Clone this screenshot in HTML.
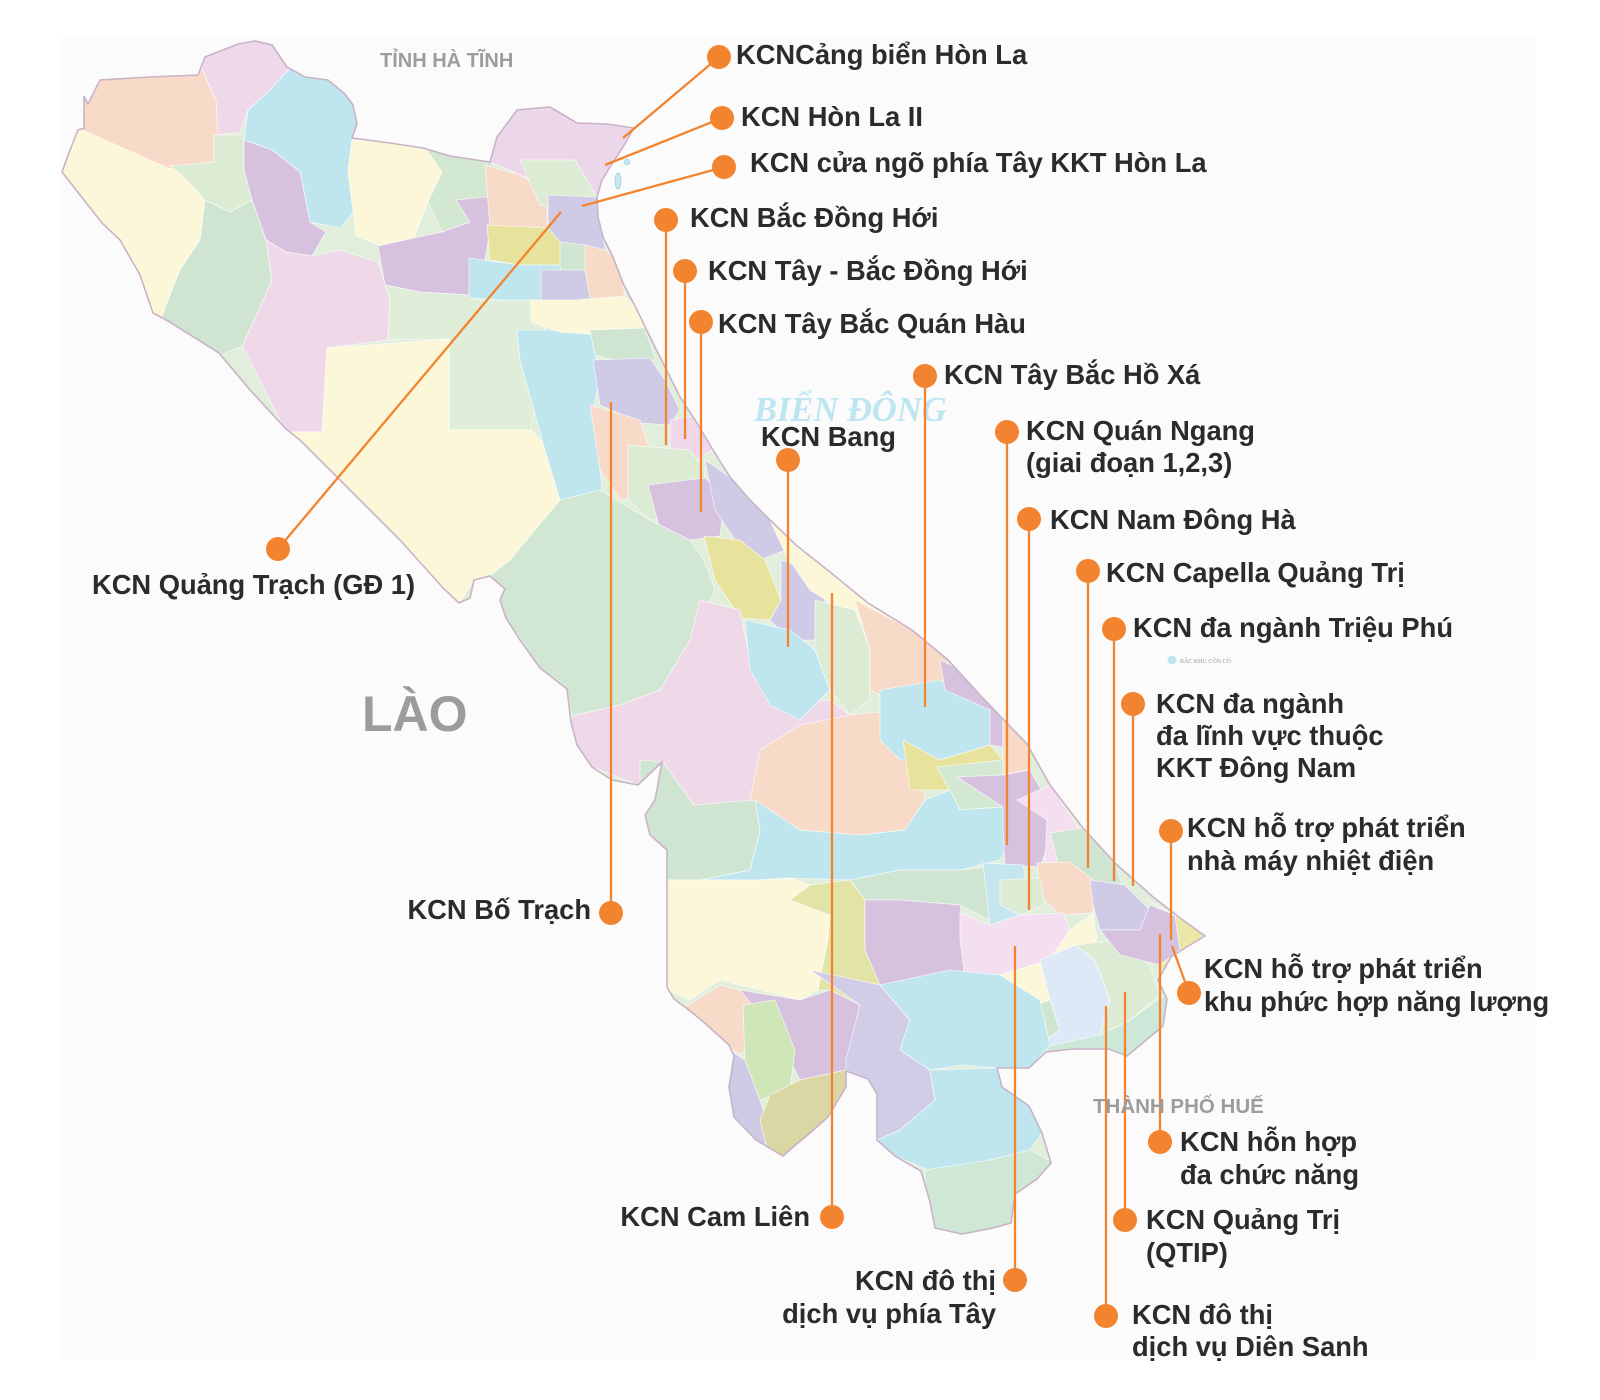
<!DOCTYPE html>
<html>
<head>
<meta charset="utf-8">
<style>
html,body{margin:0;padding:0;background:#fff;}
svg{display:block;}
.lbl{font-family:"Liberation Sans",Arial,sans-serif;font-weight:bold;font-size:27.3px;fill:#2b2b2b;}
.gr{font-family:"Liberation Sans",Arial,sans-serif;font-weight:bold;fill:#9c9c9c;}
.ln{stroke:#f3842f;stroke-width:2.3;fill:none;}
.dt{fill:#f3842f;}
.rg polygon{stroke:#ffffff;stroke-width:0.8;stroke-opacity:0.7;}
</style>
</head>
<body>
<svg width="1600" height="1400" viewBox="0 0 1600 1400" xmlns="http://www.w3.org/2000/svg">
<rect x="0" y="0" width="1600" height="1400" fill="#ffffff"/>
<rect x="60" y="38" width="1475" height="1322" fill="#fbfbfb"/>
<defs>
<clipPath id="land">
<path id="outl" d="M62,172 L70,150 L78,130 L84,128 L84,96 L88,104 L100,80 L150,77 L198,75 L205,57 L238,44 L255,41 L272,45 L287,67 L305,77 L328,80 L345,94 L353,105 L357,124 L352,138 L390,143 L423,148 L450,156 L490,162 L497,137 L517,110 L550,107 L577,123 L607,124 L634,128 L623,147 L610,167 L602,180 L597,197 L598,217 L603,237 L613,257 L623,283 L637,310 L650,337 L663,363 L680,397 L697,423 L713,450 L730,477 L750,500 L770,520 L796,545 L830,572 L868,603 L912,630 L948,660 L980,695 L1027,744 L1050,785 L1083,828 L1116,864 L1152,896 L1180,918 L1205,936 L1185,948 L1171,957 L1158,980 L1167,999 L1163,1026 L1145,1041 L1127,1056 L1109,1049 L1073,1049 L1046,1052 L1029,1068 L997,1068 L1002,1087 L1029,1106 L1042,1133 L1051,1163 L1037,1179 L1015,1194 L1011,1223 L993,1228 L962,1234 L935,1228 L930,1202 L921,1171 L895,1156 L877,1140 L877,1094 L868,1079 L846,1071 L846,1087 L828,1117 L810,1133 L792,1148 L783,1156 L756,1140 L734,1117 L729,1087 L734,1056 L729,1045 L707,1025 L689,1010 L674,999 L667,987 L667,850 L650,835 L645,815 L655,800 L662,762 L638,785 L612,780 L592,767 L577,745 L571,722 L567,689 L540,668 L520,640 L506,618 L500,600 L505,589 L490,576 L474,580 L470,598 L459,603 L444,589 L400,540 L350,490 L300,440 L286,429 L250,390 L219,353 L168,321 L153,313 L140,275 L120,240 L102,223 L80,195 Z"/>
</clipPath>
</defs>

<g clip-path="url(#land)">
<rect x="40" y="30" width="1200" height="1220" fill="#e0eedb"/>
<g class="rg">
<polygon fill="#fdf7d9" points="40,175 78,118 168,165 190,178 205,200 200,240 180,270 168,300 162,330 100,260 40,200"/>
<polygon fill="#f8dac9" points="80,60 198,60 216,100 222,135 214,162 190,172 168,168 78,128"/>
<polygon fill="#efd8ea" points="198,60 205,40 238,30 272,30 292,66 268,92 248,110 240,132 218,135 216,100"/>
<polygon fill="#bfe6ee" points="248,110 268,92 292,66 305,70 330,70 365,100 365,124 352,140 348,172 356,210 340,228 310,222 300,172 272,150 244,140"/>
<polygon fill="#dcebd3" points="214,135 244,135 244,170 252,200 230,212 205,200 185,178 170,166 214,162"/>
<polygon fill="#d6c2de" points="244,140 272,150 300,172 310,222 326,232 312,256 286,252 266,240 252,200 244,170"/>
<polygon fill="#cfe5d2" points="205,200 230,212 252,200 266,240 272,280 258,312 242,346 219,356 190,336 160,322 168,300 180,270 200,240"/>
<polygon fill="#efd9e9" points="266,240 286,252 312,256 340,250 378,262 390,300 388,340 327,348 322,432 286,432 242,346 258,312 272,280"/>
<polygon fill="#fdf7d9" points="352,140 390,142 424,146 442,172 428,202 414,238 382,246 356,236 348,172"/>
<polygon fill="#d3e8d0" points="424,146 452,150 492,155 496,196 470,222 442,232 428,202 442,172"/>
<polygon fill="#d6c2de" points="378,246 414,238 442,232 470,222 456,200 495,196 490,230 485,260 470,295 420,292 385,285"/>
<polygon fill="#dfedd9" points="385,285 420,292 470,295 480,300 530,300 545,330 531,430 449,430 449,339 388,340 390,300"/>
<polygon fill="#fdf7d9" points="286,432 322,432 327,348 449,339 449,430 531,430 560,460 566,520 540,545 510,580 490,576 474,580 459,603 444,589 350,490 300,440"/>
<polygon fill="#bfe6ee" points="517,330 590,330 600,377 593,410 600,470 605,520 585,530 560,500 545,450 531,400 520,360"/>
<polygon fill="#ecd6ea" points="490,162 497,137 517,108 550,105 577,120 607,122 640,125 623,147 610,167 602,180 597,197 560,190 520,175"/>
<polygon fill="#f8dac9" points="485,165 520,175 546,190 548,228 490,228"/>
<polygon fill="#dcebd3" points="520,160 575,160 597,197 565,210 540,205"/>
<polygon fill="#cfcbe6" points="548,195 597,197 598,217 603,237 606,252 570,252 548,235"/>
<polygon fill="#e7e39c" points="487,225 548,228 567,250 565,265 520,265 490,260"/>
<polygon fill="#cfe5d2" points="560,242 585,245 588,272 560,272"/>
<polygon fill="#bfe6ee" points="469,258 520,265 560,265 565,290 545,300 500,300 469,298"/>
<polygon fill="#f8dac9" points="585,245 606,250 613,257 623,283 625,298 590,300 585,275"/>
<polygon fill="#cfcbe6" points="541,270 585,270 590,298 575,312 541,312"/>
<polygon fill="#fdf7d9" points="531,300 575,300 625,296 637,310 645,330 600,335 560,332 531,322"/>
<polygon fill="#cfe5d2" points="590,330 645,328 655,360 620,362 595,355"/>
<polygon fill="#cfcbe6" points="593,360 650,358 665,380 680,410 670,425 640,423 600,405"/>
<polygon fill="#f8dac9" points="590,405 640,420 650,450 645,495 620,500 600,470"/>
<polygon fill="#efd8ea" points="670,420 700,415 712,450 690,465 670,452"/>
<polygon fill="#dcebd3" points="628,445 690,450 705,470 700,515 650,520 628,500"/>
<polygon fill="#d6c2de" points="648,485 705,478 725,495 720,536 690,540 660,530"/>
<polygon fill="#cfcbe6" points="705,460 730,477 750,500 770,520 786,550 760,560 735,540 715,510"/>
<polygon fill="#e7e39c" points="704,536 740,540 765,560 781,600 770,620 740,618 715,580"/>
<polygon fill="#d2e7d3" points="510,560 560,500 600,490 650,520 690,540 704,560 715,590 700,620 690,660 660,690 620,705 572,716 567,689 540,668 506,618 500,600 505,589 490,576"/>
<polygon fill="#cfcbe6" points="781,560 810,570 825,600 815,640 790,640 770,620 781,600"/>
<polygon fill="#fdf7d9" points="770,520 810,545 860,590 900,620 890,640 850,615 810,590 786,555"/>
<polygon fill="#efd9e9" points="572,716 620,705 660,690 690,640 700,600 740,610 750,660 790,700 830,700 850,715 870,730 880,760 860,790 800,800 760,810 694,805 663,762 638,785 592,767 577,745 571,722"/>
<polygon fill="#bfe6ee" points="745,620 790,630 815,650 830,690 800,720 770,705 750,670"/>
<polygon fill="#dcebd3" points="815,600 855,610 870,650 870,700 850,715 830,690 815,650"/>
<polygon fill="#f8dac9" points="855,600 912,630 948,660 945,700 900,705 870,690 870,650"/>
<polygon fill="#f8dac9" points="750,800 760,750 800,725 850,715 900,710 920,760 925,800 905,830 860,835 800,830 756,825"/>
<polygon fill="#bfe6ee" points="880,690 940,680 990,710 990,745 940,760 900,760 880,740"/>
<polygon fill="#d6c2de" points="940,660 983,680 1003,720 1003,747 990,745 990,710 945,690"/>
<polygon fill="#f8dac9" points="983,690 1027,744 1030,770 1003,775 1003,720"/>
<polygon fill="#e7e39c" points="903,740 940,760 990,745 1003,760 987,785 950,790 910,790"/>
<polygon fill="#d3e8d0" points="937,767 1003,760 1003,807 960,810"/>
<polygon fill="#bfe6ee" points="755,800 800,830 860,835 905,830 925,800 950,790 960,810 1003,807 1010,840 1000,860 960,870 900,870 850,880 790,878 760,880 720,880 700,880 750,870 760,830"/>
<polygon fill="#cfe5d2" points="640,760 663,762 694,805 755,800 760,830 750,870 700,880 667,880 640,840"/>
<polygon fill="#d6c2de" points="957,777 1003,775 1030,770 1047,800 1050,840 1040,867 1005,865 1003,830 1003,807"/>
<polygon fill="#f3dff0" points="1017,800 1050,785 1080,830 1080,867 1045,862 1047,820"/>
<polygon fill="#cfe5d2" points="1050,833 1083,828 1116,864 1123,890 1090,892 1060,870"/>
<polygon fill="#fdf7d9" points="667,880 700,880 760,880 790,878 810,885 830,900 828,940 818,990 800,1000 760,990 720,980 690,1000 667,990"/>
<polygon fill="#e2e3a6" points="790,900 810,885 850,880 865,900 865,950 880,985 910,1018 895,1035 860,1005 830,990 818,990 828,940 830,915"/>
<polygon fill="#cfe5d2" points="850,880 900,870 960,870 1005,865 1023,880 1023,913 990,920 960,905 900,900 865,900"/>
<polygon fill="#d6c2de" points="865,900 900,900 960,905 965,940 963,985 910,990 880,985 865,950"/>
<polygon fill="#c5e6ef" points="983,863 1023,865 1030,900 1017,930 990,925"/>
<polygon fill="#f8dac9" points="1037,863 1070,862 1093,880 1093,913 1060,915 1040,895"/>
<polygon fill="#dcebd3" points="1000,880 1040,878 1045,905 1020,915 1000,905"/>
<polygon fill="#f3dff0" points="960,913 990,925 1020,915 1063,913 1070,930 1050,960 1000,975 965,978 960,940"/>
<polygon fill="#fdf7d9" points="1000,975 1050,960 1070,930 1093,913 1097,940 1075,960 1050,1000 1020,1010 995,1000"/>
<polygon fill="#cfe5d2" points="995,1000 1020,1010 1050,1000 1060,1030 1040,1045 1005,1040"/>
<polygon fill="#dde9f6" points="1040,960 1075,945 1095,960 1110,1000 1100,1040 1070,1055 1040,1045 1060,1030 1050,1000"/>
<polygon fill="#dcebd3" points="1075,945 1120,940 1150,965 1160,995 1130,1020 1100,1035 1110,1000 1095,960"/>
<polygon fill="#cde8d8" points="1040,1048 1100,1035 1130,1020 1165,995 1175,1030 1150,1065 1100,1060 1040,1065"/>
<polygon fill="#cfcbe6" points="1090,880 1125,885 1150,910 1140,930 1100,930 1093,905"/>
<polygon fill="#d6c2de" points="1100,930 1140,930 1150,905 1175,915 1180,950 1160,965 1120,955"/>
<polygon fill="#ebe7a8" points="1147,900 1210,936 1185,950 1165,985 1160,965 1180,950 1175,915"/>
<polygon fill="#f8dac9" points="680,1010 720,985 760,995 755,1040 740,1055 725,1045"/>
<polygon fill="#d6c2de" points="740,990 800,1000 830,990 860,1005 846,1070 800,1080 780,1040"/>
<polygon fill="#cfe6b9" points="743,1005 775,1000 795,1050 790,1090 760,1100 745,1060"/>
<polygon fill="#cfcbe6" points="722,1045 745,1060 760,1100 770,1130 760,1160 725,1120"/>
<polygon fill="#dad7a4" points="770,1095 800,1080 846,1070 846,1090 830,1120 790,1160 770,1160 760,1120"/>
<polygon fill="#d2cde6" points="810,970 880,985 910,1020 900,1050 930,1070 935,1100 900,1130 877,1140 877,1094 868,1079 846,1071 846,1060 860,1005"/>
<polygon fill="#bfe6ee" points="880,985 950,970 1000,975 1040,1000 1050,1045 1030,1068 997,1068 960,1065 930,1070 900,1050 910,1020"/>
<polygon fill="#bfe6ee" points="930,1070 997,1068 1002,1087 1029,1106 1042,1133 1030,1150 990,1160 940,1175 895,1156 877,1140 900,1130 935,1100"/>
<polygon fill="#cfe8d6" points="925,1170 990,1160 1030,1150 1055,1163 1040,1185 1015,1194 1011,1225 993,1230 962,1238 930,1230 925,1202"/>
</g>
</g>
<use href="#outl" fill="none" stroke="#c9b3c7" stroke-width="1.6"/>
<ellipse cx="618" cy="181" rx="3" ry="8" fill="#c7e8f0" stroke="#9ccfdc" stroke-width="0.8"/>
<ellipse cx="627" cy="162" rx="2.5" ry="3" fill="#c7e8f0" stroke="#9ccfdc" stroke-width="0.8"/>

<!-- gray region labels -->
<text class="gr" x="380" y="67" font-size="20">TỈNH HÀ TĨNH</text>
<text class="gr" x="362" y="731" font-size="50" fill="#a0a0a0">LÀO</text>
<text x="754" y="421" font-family="'Liberation Serif',serif" font-style="italic" font-weight="bold" font-size="34.5" fill="#bde6f0">BIỂN ĐÔNG</text>
<circle cx="1172" cy="660" r="4.5" fill="#bfe6ee"/>
<text x="1180" y="663" font-family="'Liberation Serif',serif" font-size="6" fill="#999">BẮC KHU CỒN CỎ</text>

<!-- lines -->
<line class="ln" x1="719" y1="57" x2="623" y2="138"/>
<line class="ln" x1="722" y1="118" x2="605" y2="165"/>
<line class="ln" x1="724" y1="167" x2="582" y2="206"/>
<line class="ln" x1="666" y1="220" x2="666" y2="445"/>
<line class="ln" x1="685" y1="271" x2="685" y2="439"/>
<line class="ln" x1="701" y1="322" x2="701" y2="512"/>
<line class="ln" x1="925" y1="376" x2="925" y2="707"/>
<line class="ln" x1="1007" y1="432" x2="1007" y2="845"/>
<line class="ln" x1="1029" y1="519" x2="1029" y2="910"/>
<line class="ln" x1="1088" y1="571" x2="1088" y2="868"/>
<line class="ln" x1="1114" y1="629" x2="1114" y2="881"/>
<line class="ln" x1="1133" y1="704" x2="1133" y2="886"/>
<line class="ln" x1="1171" y1="831" x2="1171" y2="940"/>
<line class="ln" x1="1189" y1="993" x2="1172" y2="946"/>
<line class="ln" x1="1160" y1="1142" x2="1160" y2="934"/>
<line class="ln" x1="1125" y1="1220" x2="1125" y2="992"/>
<line class="ln" x1="1106" y1="1316" x2="1106" y2="1006"/>
<line class="ln" x1="1015" y1="1280" x2="1015" y2="946"/>
<line class="ln" x1="832" y1="1217" x2="832" y2="593"/>
<line class="ln" x1="788" y1="460" x2="788" y2="647"/>
<line class="ln" x1="611" y1="913" x2="611" y2="402"/>
<line class="ln" x1="278" y1="549" x2="561" y2="212"/>

<text class="gr" x="1093" y="1113" font-size="20.5">THÀNH PHỐ HUẾ</text>

<!-- dots -->
<g class="dt">
<circle cx="719" cy="57" r="12"/>
<circle cx="722" cy="118" r="12"/>
<circle cx="724" cy="167" r="12"/>
<circle cx="666" cy="220" r="12"/>
<circle cx="685" cy="271" r="12"/>
<circle cx="701" cy="322" r="12"/>
<circle cx="925" cy="376" r="12"/>
<circle cx="1007" cy="432" r="12"/>
<circle cx="1029" cy="519" r="12"/>
<circle cx="1088" cy="571" r="12"/>
<circle cx="1114" cy="629" r="12"/>
<circle cx="1133" cy="704" r="12"/>
<circle cx="1171" cy="831" r="12"/>
<circle cx="1189" cy="993" r="12"/>
<circle cx="1160" cy="1142" r="12"/>
<circle cx="1125" cy="1220" r="12"/>
<circle cx="1106" cy="1316" r="12"/>
<circle cx="1015" cy="1280" r="12"/>
<circle cx="832" cy="1217" r="12"/>
<circle cx="788" cy="460" r="12"/>
<circle cx="611" cy="913" r="12"/>
<circle cx="278" cy="549" r="12"/>
</g>

<!-- labels -->
<text class="lbl" x="736" y="64">KCNCảng biển Hòn La</text>
<text class="lbl" x="741" y="126">KCN Hòn La II</text>
<text class="lbl" x="750" y="172">KCN cửa ngõ phía Tây KKT Hòn La</text>
<text class="lbl" x="690" y="227">KCN Bắc Đồng Hới</text>
<text class="lbl" x="708" y="280">KCN Tây - Bắc Đồng Hới</text>
<text class="lbl" x="718" y="333">KCN Tây Bắc Quán Hàu</text>
<text class="lbl" x="944" y="384">KCN Tây Bắc Hồ Xá</text>
<text class="lbl" x="1026" y="440">KCN Quán Ngang</text>
<text class="lbl" x="1026" y="472">(giai đoạn 1,2,3)</text>
<text class="lbl" x="1050" y="529">KCN Nam Đông Hà</text>
<text class="lbl" x="1106" y="582">KCN Capella Quảng Trị</text>
<text class="lbl" x="1133" y="637">KCN đa ngành Triệu Phú</text>
<text class="lbl" x="1156" y="713">KCN đa ngành</text>
<text class="lbl" x="1156" y="745">đa lĩnh vực thuộc</text>
<text class="lbl" x="1156" y="777">KKT Đông Nam</text>
<text class="lbl" x="1187" y="837">KCN hỗ trợ phát triển</text>
<text class="lbl" x="1187" y="870">nhà máy nhiệt điện</text>
<text class="lbl" x="1204" y="978">KCN hỗ trợ phát triển</text>
<text class="lbl" x="1204" y="1011">khu phức hợp năng lượng</text>
<text class="lbl" x="1180" y="1151">KCN hỗn hợp</text>
<text class="lbl" x="1180" y="1184">đa chức năng</text>
<text class="lbl" x="1146" y="1229">KCN Quảng Trị</text>
<text class="lbl" x="1146" y="1262">(QTIP)</text>
<text class="lbl" x="1132" y="1324">KCN đô thị</text>
<text class="lbl" x="1132" y="1356">dịch vụ Diên Sanh</text>
<text class="lbl" x="996" y="1290" text-anchor="end">KCN đô thị</text>
<text class="lbl" x="996" y="1323" text-anchor="end">dịch vụ phía Tây</text>
<text class="lbl" x="810" y="1226" text-anchor="end">KCN Cam Liên</text>
<text class="lbl" x="761" y="446">KCN Bang</text>
<text class="lbl" x="591" y="919" text-anchor="end">KCN Bố Trạch</text>
<text class="lbl" x="92" y="594">KCN Quảng Trạch (GĐ 1)</text>
</svg>
</body>
</html>
